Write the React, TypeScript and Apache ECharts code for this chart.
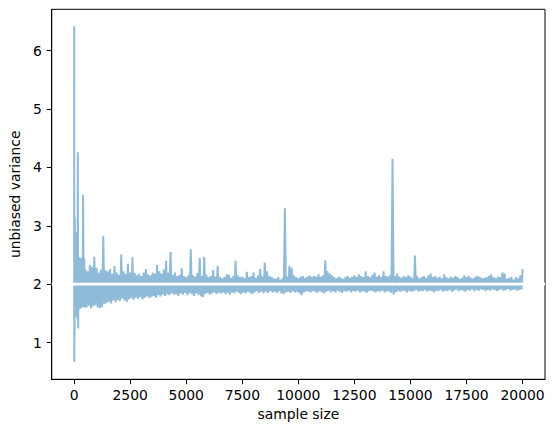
import React, { useEffect, useRef } from "react";
import * as echarts from "echarts";

// Tick labels
const xTicks = [0, 2500, 5000, 7500, 10000, 12500, 15000, 17500, 20000];
const yTicks = [1, 2, 3, 4, 5, 6];

// Very small samples (sample size, unbiased variance)
const earlySizes = [2, 4, 8, 14, 20, 30, 40, 55, 70, 90, 110, 130, 150, 165, 180, 200, 225, 250, 275, 300, 325, 350, 375, 400, 425, 450, 475];
const earlyVariance = [1.45, 6.42, 0.67, 2.3, 1.1, 3.15, 1.5, 2.6, 1.45, 2.9, 1.55, 2.5, 1.4, 4.26, 1.24, 2.44, 1.6, 2.46, 1.58, 2.42, 1.61, 2.45, 1.6, 3.53, 1.62, 2.44, 1.6];

// Upper swings, read at sample sizes 500, 600, ..., 20000
const upperSizeStart = 500;
const upperVariance = [
  2.26, 2.22, 2.33, 2.30, 2.47, 2.28, 2.20, 2.25, 2.82, 2.24,
  2.22, 2.26, 2.18, 2.31, 2.20, 2.16, 2.51, 2.22, 2.18, 2.35,
  2.20, 2.46, 2.19, 2.15, 2.18, 2.14, 2.20, 2.26, 2.17, 2.15,
  2.20, 2.18, 2.33, 2.22, 2.18, 2.25, 2.40, 2.20, 2.55, 2.16,
  2.20, 2.14, 2.16, 2.27, 2.14, 2.12, 2.16, 2.60, 2.15, 2.13,
  2.19, 2.45, 2.14, 2.47, 2.16, 2.12, 2.14, 2.24, 2.13, 2.31,
  2.12, 2.10, 2.12, 2.17, 2.16, 2.11, 2.14, 2.40, 2.15, 2.12,
  2.13, 2.10, 2.21, 2.12, 2.14, 2.20, 2.11, 2.15, 2.26, 2.13,
  2.37, 2.22, 2.14, 2.12, 2.10, 2.09, 2.12, 2.08, 2.11, 3.30,
  2.13, 2.31, 2.28, 2.15, 2.12, 2.10, 2.13, 2.14, 2.11, 2.13,
  2.15, 2.12, 2.14, 2.13, 2.17, 2.13, 2.15, 2.41, 2.22, 2.18,
  2.15, 2.12, 2.10, 2.13, 2.11, 2.09, 2.12, 2.14, 2.11, 2.13,
  2.15, 2.12, 2.17, 2.14, 2.12, 2.22, 2.14, 2.12, 2.16, 2.20,
  2.13, 2.15, 2.12, 2.22, 2.14, 2.13, 2.16, 4.15, 2.14, 2.18,
  2.13, 2.11, 2.14, 2.12, 2.15, 2.13, 2.11, 2.49, 2.14, 2.10,
  2.12, 2.14, 2.11, 2.15, 2.18, 2.12, 2.14, 2.11, 2.13, 2.10,
  2.17, 2.12, 2.10, 2.13, 2.11, 2.14, 2.12, 2.09, 2.11, 2.15,
  2.12, 2.14, 2.11, 2.10, 2.13, 2.14, 2.12, 2.10, 2.11, 2.12,
  2.14, 2.17, 2.12, 2.10, 2.13, 2.12, 2.20, 2.18, 2.09, 2.11,
  2.13, 2.08, 2.12, 2.10, 2.15, 2.26,
];

// Lower swings, read at sample sizes 550, 650, ..., 19950
const lowerSizeStart = 550;
const lowerVariance = [
  1.60, 1.63, 1.59, 1.62, 1.64, 1.60, 1.59, 1.61, 1.66, 1.68,
  1.70, 1.67, 1.72, 1.69, 1.73, 1.71, 1.75, 1.72, 1.70, 1.74,
  1.76, 1.73, 1.77, 1.75, 1.78, 1.74, 1.77, 1.79, 1.76, 1.78,
  1.80, 1.77, 1.81, 1.79, 1.82, 1.80, 1.83, 1.81, 1.84, 1.82,
  1.83, 1.80, 1.84, 1.82, 1.85, 1.81, 1.84, 1.83, 1.80, 1.84,
  1.82, 1.79, 1.78, 1.83, 1.85, 1.82, 1.84, 1.86, 1.83, 1.85,
  1.84, 1.86, 1.83, 1.85, 1.82, 1.86, 1.84, 1.87, 1.85, 1.83,
  1.86, 1.84, 1.87, 1.85, 1.83, 1.86, 1.88, 1.85, 1.87, 1.84,
  1.87, 1.85, 1.88, 1.86, 1.87, 1.85, 1.88, 1.84, 1.83, 1.86,
  1.87, 1.85, 1.88, 1.86, 1.87, 1.84, 1.81, 1.86, 1.88, 1.87,
  1.86, 1.88, 1.87, 1.85, 1.88, 1.86, 1.84, 1.87, 1.89, 1.86,
  1.88, 1.86, 1.89, 1.87, 1.85, 1.88, 1.87, 1.89, 1.86, 1.88,
  1.87, 1.89, 1.86, 1.88, 1.87, 1.85, 1.88, 1.89, 1.87, 1.86,
  1.88, 1.87, 1.89, 1.86, 1.88, 1.87, 1.85, 1.82, 1.86, 1.88,
  1.87, 1.89, 1.88, 1.86, 1.89, 1.87, 1.88, 1.90, 1.87, 1.89,
  1.88, 1.90, 1.87, 1.89, 1.88, 1.86, 1.89, 1.88, 1.90, 1.87,
  1.89, 1.88, 1.90, 1.87, 1.89, 1.91, 1.88, 1.90, 1.89, 1.87,
  1.90, 1.89, 1.91, 1.88, 1.90, 1.89, 1.91, 1.90, 1.88, 1.90,
  1.89, 1.91, 1.90, 1.88, 1.90, 1.91, 1.89, 1.90, 1.92, 1.89,
  1.90, 1.91, 1.89, 1.90, 1.91,
];
const sizeStep = 100;

const trueVariance = 2;

export default function App() {
  const ref = useRef<HTMLDivElement>(null);

  useEffect(() => {
    if (!ref.current) return;
    const chart = echarts.init(ref.current, undefined, { renderer: "svg" });

    const points: [number, number][] = [];
    earlySizes.forEach((s, i) => points.push([s, earlyVariance[i]]));
    upperVariance.forEach((v, i) => {
      points.push([upperSizeStart + i * sizeStep, v]);
      if (i < lowerVariance.length) {
        points.push([lowerSizeStart + i * sizeStep, lowerVariance[i]]);
      }
    });

    const xMin = -999;
    const xMax = 21000;
    const font = "DejaVu Sans";
    const black = "#000000";

    chart.setOption({
      animation: false,
      grid: {
        left: 48.3,
        right: 8,
        top: 9.3,
        bottom: 52.7,
        show: true,
        borderColor: black,
        borderWidth: 1,
        backgroundColor: "transparent",
      },
      xAxis: {
        type: "value",
        min: xMin,
        max: xMax,
        name: "sample size",
        nameLocation: "middle",
        nameGap: 27,
        nameTextStyle: { fontFamily: font, fontSize: 13.9, color: black },
        axisLine: { show: true, onZero: false, lineStyle: { color: black, width: 1 } },
        axisTick: { show: true, inside: false, length: 4.9, customValues: xTicks, lineStyle: { color: black, width: 1 } },
        axisLabel: {
          customValues: xTicks,
          margin: 9,
          fontFamily: font,
          fontSize: 13.9,
          color: black,
          formatter: (v: number) => String(v),
        },
        splitLine: { show: false },
      },
      yAxis: {
        type: "value",
        min: 0.37,
        max: 6.71,
        name: "unbiased variance",
        nameLocation: "middle",
        nameGap: 24,
        nameTextStyle: { fontFamily: font, fontSize: 13.9, color: black },
        axisLine: { show: true, onZero: false, lineStyle: { color: black, width: 1 } },
        axisTick: { show: true, inside: false, length: 4.9, customValues: yTicks, lineStyle: { color: black, width: 1 } },
        axisLabel: {
          customValues: yTicks,
          margin: 10,
          fontFamily: font,
          fontSize: 13.9,
          color: black,
          formatter: (v: number) => String(v),
        },
        splitLine: { show: false },
      },
      series: [
        {
          type: "line",
          data: points,
          symbol: "none",
          showSymbol: false,
          silent: true,
          lineStyle: { color: "#8fbbd9", width: 2, join: "miter" },
        },
        {
          type: "line",
          data: [
            [xMin, trueVariance],
            [xMax, trueVariance],
          ],
          symbol: "none",
          showSymbol: false,
          silent: true,
          lineStyle: { color: "#ffffff", width: 2.8 },
        },
      ],
    });

    return () => chart.dispose();
  }, []);

  return (
    <div
      ref={ref}
      style={{ position: "fixed", left: 0, top: 0, width: 553, height: 432, background: "#ffffff" }}
    />
  );
}
